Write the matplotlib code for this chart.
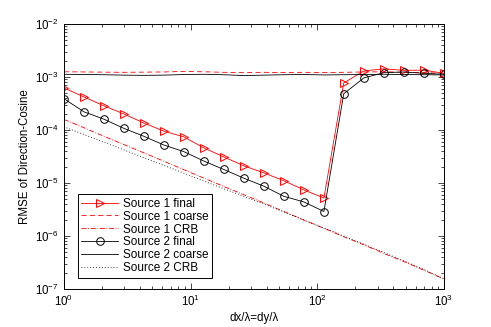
import matplotlib
matplotlib.use("Agg")
import matplotlib.pyplot as plt
from matplotlib.ticker import LogLocator, NullFormatter

plt.rcParams['font.family'] = ['Liberation Sans', 'DejaVu Sans']
plt.rcParams['mathtext.fontset'] = 'custom'
plt.rcParams['mathtext.rm'] = 'Liberation Sans'
plt.rcParams['mathtext.it'] = 'Liberation Sans'
plt.rcParams['mathtext.bf'] = 'Liberation Sans'

# spacing dx/lambda (log spaced, 20 points from 1 to 1000)
spacing = [1, 1.44, 2.07, 2.98, 4.28, 6.16, 8.86, 12.7, 18.3, 26.4,
           37.9, 54.6, 78.5, 113, 162, 234, 336, 483, 695, 1000]

s1_final = [6.2e-4, 4.2e-4, 2.85e-4, 2.0e-4, 1.35e-4, 9.5e-5, 7.4e-5, 4.6e-5, 3.1e-5, 2.1e-5,
            1.55e-5, 1.1e-5, 7.4e-6, 5.2e-6, 7.7e-4, 1.3e-3, 1.42e-3, 1.33e-3, 1.34e-3, 1.17e-3]
s1_coarse = [1.25e-3, 1.24e-3, 1.23e-3, 1.22e-3, 1.23e-3, 1.24e-3, 1.27e-3, 1.25e-3, 1.22e-3, 1.21e-3,
             1.22e-3, 1.21e-3, 1.22e-3, 1.21e-3, 1.22e-3, 1.24e-3, 1.25e-3, 1.22e-3, 1.20e-3, 1.18e-3]
s1_crb = [1.58e-4, 1.10e-4, 7.6e-5, 5.3e-5, 3.7e-5, 2.57e-5, 1.78e-5, 1.24e-5, 8.6e-6, 6.0e-6,
          4.2e-6, 2.9e-6, 2.0e-6, 1.40e-6, 9.7e-7, 6.8e-7, 4.7e-7, 3.3e-7, 2.27e-7, 1.55e-7]

s2_final = [3.9e-4, 2.2e-4, 1.6e-4, 1.07e-4, 7.6e-5, 5.2e-5, 3.9e-5, 2.6e-5, 1.8e-5, 1.23e-5,
            8.7e-6, 5.6e-6, 4.4e-6, 2.9e-6, 4.8e-4, 9.6e-4, 1.2e-3, 1.24e-3, 1.17e-3, 1.12e-3]
s2_coarse = [1.12e-3, 1.11e-3, 1.10e-3, 1.08e-3, 1.07e-3, 1.08e-3, 1.11e-3, 1.12e-3, 1.10e-3, 1.06e-3,
             1.08e-3, 1.10e-3, 1.11e-3, 1.09e-3, 1.10e-3, 1.11e-3, 1.12e-3, 1.11e-3, 1.10e-3, 1.09e-3]
s2_crb = [1.15e-4, 8.2e-5, 5.9e-5, 4.2e-5, 3.0e-5, 2.15e-5, 1.53e-5, 1.09e-5, 7.8e-6, 5.6e-6,
          4.0e-6, 2.85e-6, 2.0e-6, 1.42e-6, 1.0e-6, 7.0e-7, 4.9e-7, 3.4e-7, 2.35e-7, 1.55e-7]

fig = plt.figure(figsize=(4.91, 3.27), dpi=100)
ax = fig.add_axes([0.130, 0.116, 0.774, 0.811])

lw = 0.6
ax.plot(spacing, s1_final, color='r', lw=lw, marker='>', ms=5.5, mfc='none', mew=0.7, label='Source 1 final')
ax.plot(spacing, s1_coarse, color='r', lw=lw, ls=(0, (6, 4)), label='Source 1 coarse')
ax.plot(spacing, s1_crb, color='r', lw=lw, ls=(0, (6, 2, 1, 2)), label='Source 1 CRB')
ax.plot(spacing, s2_final, color='k', lw=lw, marker='o', ms=5.5, mfc='none', mew=0.7, label='Source 2 final')
ax.plot(spacing, s2_coarse, color='k', lw=lw, label='Source 2 coarse')
ax.plot(spacing, s2_crb, color='k', lw=lw, ls=(0, (1, 2.5)), label='Source 2 CRB')

ax.set_xscale('log')
ax.set_yscale('log')
ax.set_xlim(1, 1000)
ax.set_ylim(1e-7, 1e-2)
ax.xaxis.set_minor_locator(LogLocator(base=10, subs=range(2, 10), numticks=20))
ax.yaxis.set_minor_locator(LogLocator(base=10, subs=range(2, 10), numticks=20))
ax.xaxis.set_minor_formatter(NullFormatter())
ax.yaxis.set_minor_formatter(NullFormatter())
ax.tick_params(which='both', direction='in', top=True, right=True, labelsize=8.3, width=0.5)
ax.tick_params(which='major', length=4)
ax.tick_params(which='minor', length=2)
for sp in ax.spines.values():
    sp.set_linewidth(0.7)

ax.set_xlabel('dx/\u03bb=dy/\u03bb', fontsize=8.3, labelpad=2)
ax.set_ylabel('RMSE of Direction-Cosine', fontsize=8.3, labelpad=3)

leg = ax.legend(loc='lower left', bbox_to_anchor=(0.037, 0.042), borderaxespad=0,
                fontsize=8.5, fancybox=False, edgecolor='k', framealpha=1,
                handlelength=3.1, handletextpad=0.4, labelspacing=0.08, borderpad=0.3)
leg.get_frame().set_linewidth(0.7)

fig.savefig('out.png', dpi=100)
